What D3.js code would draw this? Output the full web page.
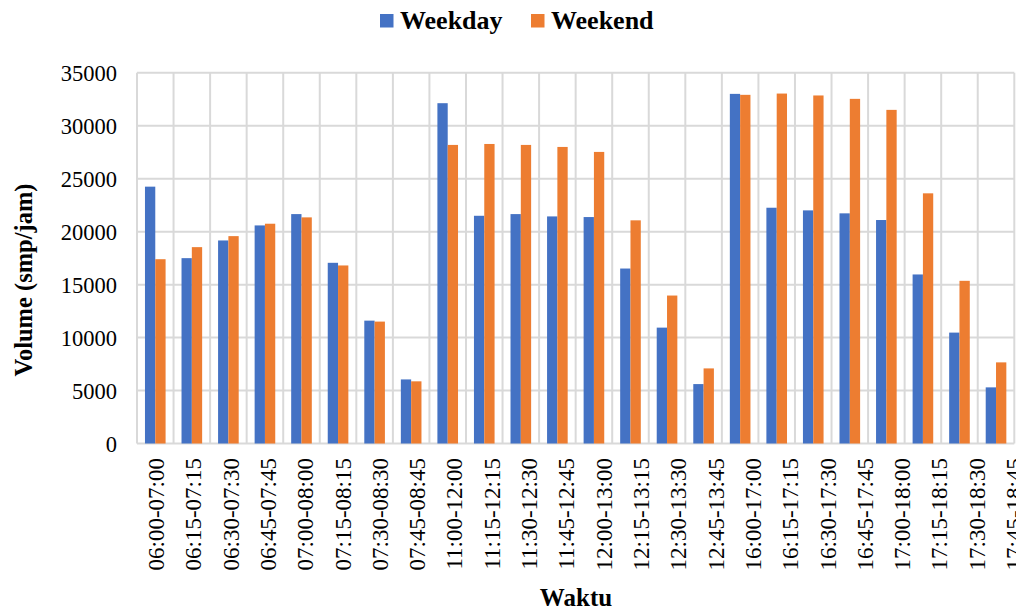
<!DOCTYPE html>
<html>
<head>
<meta charset="utf-8">
<script src="https://cdn.jsdelivr.net/npm/d3@7"></script>
<style>
  body { margin: 0; background: #fff; }
  text { font-family: "Liberation Serif", "Times New Roman", serif; fill: #000; }
</style>
</head>
<body>
<script>
var width = 1016,
    height = 612

// data
var categories = ["06:00-07:00","06:15-07:15","06:30-07:30","06:45-07:45","07:00-08:00","07:15-08:15",
  "07:30-08:30","07:45-08:45","11:00-12:00","11:15-12:15","11:30-12:30","11:45-12:45",
  "12:00-13:00","12:15-13:15","12:30-13:30","12:45-13:45","16:00-17:00","16:15-17:15",
  "16:30-17:30","16:45-17:45","17:00-18:00","17:15-18:15","17:30-18:30","17:45-18:45"];
var weekday = [24250,17500,19170,20590,21660,17060,11600,6050,32130,21500,21660,21440,
  21380,16520,10940,5610,33010,22260,22010,21730,21100,15960,10470,5300];
var weekend = [17400,18540,19580,20750,21350,16810,11510,5870,28190,28280,28190,28000,
  27530,21070,13970,7090,32920,33040,32860,32540,31500,23620,15360,7660];
var seriesNames = ["Weekday", "Weekend"];
var colors = ["#4472C4", "#ED7D31"];
var yTicks = [0,5000,10000,15000,20000,25000,30000,35000];

var plot = {left: 137, right: 1014.3, top: 72.8, bottom: 443.5};

var svg = d3.select("body").append("svg")
    .attr("width", width)
    .attr("height", height);

var x0 = d3.scaleBand()
    .domain(categories)
    .range([plot.left, plot.right])
    .paddingInner(0.436)
    .paddingOuter(0.218);

var x1 = d3.scaleBand()
    .domain(seriesNames)
    .range([0, x0.bandwidth()]);

var y = d3.scaleLinear()
    .domain([0, 35000])
    .range([plot.bottom, plot.top]);

// excel spreads the rotated labels a bit wider than the bars
var xLabel = d3.scalePoint()
    .domain(categories)
    .range([156, 1014]);

// gridlines
svg.append("g").selectAll("line.h").data(yTicks)
  .enter().append("line")
    .attr("x1", plot.left).attr("x2", plot.right)
    .attr("y1", function(d) { return y(d); })
    .attr("y2", function(d) { return y(d); })
    .attr("stroke", "#d9d9d9")
    .attr("stroke-width", 2);

var step = x0.step();
svg.append("g").selectAll("line.v").data(d3.range(categories.length + 1))
  .enter().append("line")
    .attr("x1", function(i) { return plot.left + i * step; })
    .attr("x2", function(i) { return plot.left + i * step; })
    .attr("y1", plot.top).attr("y2", plot.bottom)
    .attr("stroke", "#d9d9d9")
    .attr("stroke-width", 2);

// bars
var rows = categories.map(function(c, i) {
  return {cat: c, values: [
    {name: seriesNames[0], value: weekday[i], color: colors[0]},
    {name: seriesNames[1], value: weekend[i], color: colors[1]}
  ]};
});

var groups = svg.append("g").selectAll("g").data(rows)
  .enter().append("g")
    .attr("transform", function(d) { return "translate(" + x0(d.cat) + ",0)"; });

groups.selectAll("rect").data(function(d) { return d.values; })
  .enter().append("rect")
    .attr("x", function(d) { return x1(d.name); })
    .attr("y", function(d) { return y(d.value); })
    .attr("width", x1.bandwidth())
    .attr("height", function(d) { return y(0) - y(d.value); })
    .attr("fill", function(d) { return d.color; });

// y axis labels
var yAxis = d3.axisLeft(y).tickValues(yTicks).tickFormat(d3.format("d"))
    .tickSize(0).tickPadding(0);
var yg = svg.append("g")
    .attr("transform", "translate(117,0)")
    .call(yAxis);
yg.attr("font-family", null).attr("font-size", null);
yg.select(".domain").remove();
yg.selectAll("text")
    .style("font-family", "'Liberation Serif', serif")
    .style("font-size", "22.5px")
    .attr("fill", "#000")
    .attr("x", 0)
    .attr("dy", "0.35em");

// x axis labels
svg.append("g").selectAll("text").data(categories)
  .enter().append("text")
    .attr("transform", function(d) { return "translate(" + xLabel(d) + ",458) rotate(-90)"; })
    .attr("text-anchor", "end")
    .attr("dy", "0.35em")
    .style("font-size", "23px")
    .text(function(d) { return d; });

// axis titles
svg.append("text")
    .attr("transform", "translate(32,280) rotate(-90)")
    .attr("text-anchor", "middle")
    .style("font-size", "24.5px")
    .style("font-weight", "bold")
    .text("Volume (smp/jam)");

svg.append("text")
    .attr("x", 576).attr("y", 606)
    .attr("text-anchor", "middle")
    .style("font-size", "25px")
    .style("font-weight", "bold")
    .text("Waktu");

// legend
var legendX = [380, 531];
var legend = svg.append("g").selectAll("g").data(seriesNames)
  .enter().append("g")
    .attr("transform", function(d, i) { return "translate(" + legendX[i] + ",0)"; });
legend.append("rect")
    .attr("x", 0).attr("y", 14)
    .attr("width", 13.5).attr("height", 13.5)
    .attr("fill", function(d, i) { return colors[i]; });
legend.append("text")
    .attr("x", 20).attr("y", 28.5)
    .style("font-size", "26px")
    .style("font-weight", "bold")
    .text(function(d) { return d; });
</script>
</body>
</html>
